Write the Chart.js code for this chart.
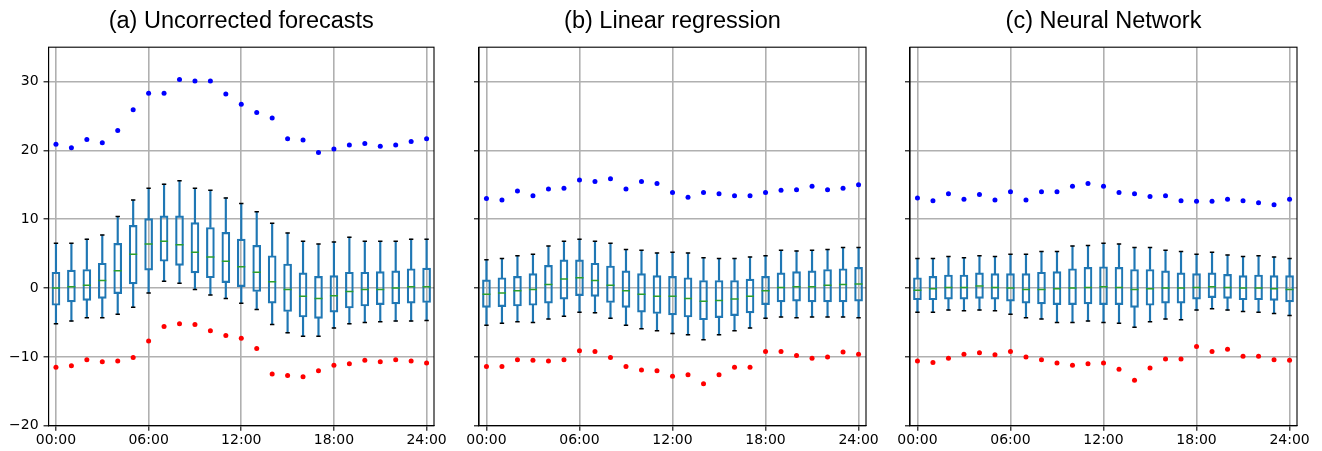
<!DOCTYPE html>
<html>
<head>
<meta charset="utf-8">
<title>Forecast errors by hour</title>
<script src="https://cdn.jsdelivr.net/npm/chart.js"></script>
<style>
  body { margin: 0; background: #fff; }
  #wrap { position: relative; width: 1322px; height: 451px; overflow: hidden; }
  canvas { position: absolute; top: 0; }
</style>
</head>
<body>
<div id="wrap">
  <canvas id="chartA" style="left:0px"></canvas>
  <canvas id="chartB" style="left:440px"></canvas>
  <canvas id="chartC" style="left:871px"></canvas>
</div>
<script>
// hour positions of the boxes
const hours = [0, 1, 2, 3, 4, 5, 6, 7, 8, 9, 10, 11, 12, 13, 14, 15, 16, 17, 18, 19, 20, 21, 22, 23, 24];
const xTicks = [0, 6, 12, 18, 24];
const xTickLabels = ['00:00', '06:00', '12:00', '18:00', '24:00'];
const yTicks = [-20, -10, 0, 10, 20, 30];
const yTickLabels = ['\u221220', '\u221210', '0', '10', '20', '30'];
const titles = ['(a) Uncorrected forecasts', '(b) Linear regression', '(c) Neural Network'];

// (a) uncorrected
const aWhiskerHigh = [6.5, 6.5, 7.1, 7.7, 10.4, 12.8, 14.5, 15.1, 15.6, 14.5, 14.2, 13.1, 12.3, 11.1, 9.4, 8.0, 6.8, 6.4, 6.7, 7.4, 6.8, 6.8, 6.8, 7.1, 7.1];
const aQ3 = [2.3, 2.6, 2.7, 3.6, 6.5, 9.1, 10.1, 10.5, 10.5, 9.5, 8.8, 8.1, 7.1, 6.2, 4.7, 3.5, 2.2, 1.7, 1.8, 2.3, 2.3, 2.4, 2.5, 2.8, 2.9];
const aMedian = [0.0, 0.2, 0.4, 1.1, 2.5, 4.9, 6.4, 6.8, 6.3, 5.2, 4.5, 3.9, 3.1, 2.3, 0.9, -0.2, -1.2, -1.5, -1.1, -0.5, -0.2, -0.2, 0.0, 0.2, 0.2];
const aQ1 = [-2.5, -2.0, -1.8, -1.5, -0.8, 0.6, 2.6, 3.9, 3.3, 2.2, 1.5, 0.8, 0.2, -0.5, -2.2, -3.4, -4.2, -4.4, -3.5, -2.9, -2.6, -2.4, -2.3, -2.2, -2.1];
const aWhiskerLow = [-5.2, -4.8, -4.3, -4.3, -3.8, -2.8, -0.7, 1.0, 0.7, -0.2, -1.0, -1.5, -2.2, -3.1, -5.3, -6.5, -7.0, -7.0, -5.8, -5.2, -5.0, -4.9, -4.8, -4.8, -4.7];
const aMax = [20.9, 20.4, 21.6, 21.1, 22.9, 25.9, 28.3, 28.3, 30.3, 30.1, 30.1, 28.2, 26.7, 25.5, 24.7, 21.7, 21.5, 19.7, 20.2, 20.8, 21.0, 20.6, 20.8, 21.3, 21.7];
const aMin = [-11.5, -11.3, -10.4, -10.7, -10.6, -10.1, -7.7, -5.6, -5.2, -5.3, -6.2, -6.9, -7.3, -8.8, -12.5, -12.7, -12.9, -12.0, -11.2, -11.0, -10.5, -10.7, -10.4, -10.6, -10.9];

// (b) linear regression
const bWhiskerHigh = [4.1, 4.3, 4.7, 4.9, 6.1, 6.8, 7.1, 6.8, 6.5, 5.6, 5.5, 5.1, 5.2, 5.1, 4.4, 4.3, 4.3, 4.5, 4.7, 5.5, 5.4, 5.5, 5.6, 5.9, 5.9];
const bQ3 = [1.2, 1.5, 1.7, 2.1, 3.3, 4.1, 4.1, 3.6, 3.2, 2.5, 2.1, 1.8, 1.7, 1.5, 1.1, 1.1, 1.1, 1.3, 1.7, 2.2, 2.4, 2.5, 2.7, 2.8, 3.0];
const bMedian = [-0.9, -0.7, -0.4, -0.2, 0.5, 1.3, 1.5, 1.1, 0.4, -0.4, -0.9, -1.2, -1.2, -1.5, -1.9, -1.8, -1.6, -1.2, -0.4, 0.1, 0.2, 0.2, 0.4, 0.5, 0.6];
const bQ1 = [-2.8, -2.7, -2.6, -2.5, -2.2, -1.6, -1.1, -1.2, -2.1, -2.8, -3.5, -3.7, -3.9, -4.2, -4.6, -4.3, -4.0, -3.6, -2.4, -2.0, -1.9, -2.0, -2.0, -2.0, -1.9];
const bWhiskerLow = [-5.4, -5.1, -4.9, -5.0, -4.5, -4.1, -3.5, -3.6, -4.4, -5.4, -5.9, -6.2, -6.6, -6.8, -7.5, -6.8, -6.2, -5.8, -4.4, -4.2, -4.3, -4.2, -4.2, -4.2, -4.3];
const bMax = [13.0, 12.8, 14.1, 13.4, 14.4, 14.5, 15.7, 15.5, 15.9, 14.4, 15.5, 15.2, 13.9, 13.2, 13.9, 13.7, 13.4, 13.4, 13.9, 14.2, 14.3, 14.8, 14.3, 14.5, 15.0];
const bMin = [-11.4, -11.4, -10.4, -10.5, -10.6, -10.4, -9.1, -9.2, -10.1, -11.4, -11.9, -12.0, -12.8, -12.6, -13.9, -12.6, -11.5, -11.5, -9.2, -9.2, -9.8, -10.2, -10.0, -9.3, -9.6];

// (c) neural network
const cWhiskerHigh = [4.3, 4.3, 4.6, 4.4, 4.7, 4.6, 4.9, 4.9, 5.3, 5.3, 6.1, 6.2, 6.5, 6.4, 5.9, 5.9, 5.5, 5.3, 4.9, 5.2, 4.8, 4.6, 4.7, 4.5, 4.3];
const cQ3 = [1.5, 1.7, 1.9, 1.9, 2.2, 2.1, 2.1, 2.1, 2.3, 2.4, 2.8, 3.0, 3.1, 3.0, 2.7, 2.7, 2.5, 2.2, 2.1, 2.2, 2.0, 1.8, 1.9, 1.8, 1.8];
const cMedian = [-0.3, -0.1, 0.1, 0.1, 0.3, 0.1, 0.0, -0.2, -0.2, -0.1, 0.0, 0.1, 0.2, 0.1, -0.2, -0.1, 0.0, 0.0, 0.1, 0.2, 0.1, 0.0, 0.0, -0.1, -0.2];
const cQ1 = [-1.7, -1.7, -1.6, -1.6, -1.5, -1.6, -1.9, -2.2, -2.3, -2.4, -2.4, -2.3, -2.4, -2.4, -2.8, -2.5, -2.2, -2.2, -1.6, -1.4, -1.5, -1.7, -1.7, -1.8, -2.0];
const cWhiskerLow = [-3.5, -3.5, -3.2, -3.3, -3.2, -3.3, -3.8, -4.3, -4.5, -5.0, -5.0, -4.8, -5.0, -5.1, -5.7, -4.9, -4.5, -4.6, -3.2, -3.0, -3.2, -3.4, -3.5, -3.7, -4.0];
const cMax = [13.1, 12.7, 13.7, 12.9, 13.6, 12.8, 14.0, 12.8, 14.0, 14.0, 14.8, 15.2, 14.8, 13.9, 13.7, 13.3, 13.4, 12.7, 12.6, 12.6, 12.9, 12.7, 12.4, 12.1, 12.9];
const cMin = [-10.6, -10.8, -10.2, -9.6, -9.4, -9.7, -9.2, -10.0, -10.4, -10.9, -11.2, -11.0, -10.9, -11.8, -13.4, -11.6, -10.3, -10.3, -8.5, -9.2, -8.9, -9.9, -9.9, -10.4, -10.5];

const BLUE = '#1f77b4';
const GREEN = '#2ca02c';

// draws the closed frame around the plot area (matplotlib style spines)
const framePlugin = {
  id: 'frame',
  beforeDatasetsDraw(chart) {
    const a = chart.chartArea;
    const ctx = chart.ctx;
    ctx.save();
    ctx.strokeStyle = '#000';
    ctx.lineWidth = 1.1;
    ctx.strokeRect(a.left, a.top, a.right - a.left, a.bottom - a.top);
    ctx.restore();
  }
};

function makePanel(id, title, wHigh, q3, med, q1, wLow, maxs, mins, showY, pad, width) {
  const canvas = document.getElementById(id);
  canvas.width = width;
  canvas.height = 451;
  canvas.style.width = width + 'px';
  canvas.style.height = '451px';

  const pts = arr => hours.map((h, i) => ({ x: h, y: arr[i] }));
  const range = (lo, hi) => hours.map((h, i) => ({ x: h, y: [lo[i], hi[i]] }));

  new Chart(canvas, {
    type: 'bar',
    data: {
      datasets: [
        { type: 'scatter', data: pts(maxs), pointRadius: 2.5, pointBackgroundColor: '#0000ff', pointBorderWidth: 0 },
        { type: 'scatter', data: pts(mins), pointRadius: 2.5, pointBackgroundColor: '#ff0000', pointBorderWidth: 0 },
        { type: 'scatter', data: pts(med), pointStyle: 'line', pointRadius: 4, pointBorderColor: GREEN, pointBorderWidth: 1.5 },
        { type: 'scatter', data: pts(wHigh).concat(pts(wLow)), pointStyle: 'line', pointRadius: 2.2, pointBorderColor: '#000', pointBorderWidth: 1.5 },
        { data: range(q1, q3), grouped: false, barThickness: 8, backgroundColor: 'rgba(0,0,0,0)', borderColor: BLUE, borderWidth: 1.5, borderSkipped: false },
        { data: range(q3, wHigh), grouped: false, barThickness: 1.5, backgroundColor: BLUE, borderWidth: 0 },
        { data: range(wLow, q1), grouped: false, barThickness: 1.5, backgroundColor: BLUE, borderWidth: 0 }
      ]
    },
    options: {
      responsive: false,
      animation: false,
      events: [],
      layout: { padding: pad },
      plugins: {
        legend: { display: false },
        tooltip: { enabled: false },
        title: {
          display: true, text: title, fullSize: false, color: '#000',
          font: { family: 'Liberation Sans', size: 23.5, weight: 'normal' },
          padding: { top: 7, bottom: 12 }
        }
      },
      scales: {
        x: {
          type: 'linear', min: -0.48, max: 24.48, offset: false,
          afterBuildTicks: s => { s.ticks = xTicks.map(v => ({ value: v })); },
          ticks: {
            color: '#000', padding: 1, maxRotation: 0,
            font: { family: 'DejaVu Sans', size: 14 },
            callback: v => xTickLabels[xTicks.indexOf(v)]
          },
          grid: { offset: false, color: '#b0b0b0', lineWidth: 1.6, tickLength: 5, tickColor: '#000', tickWidth: 1.1 },
          border: { display: true, color: '#000', width: 1.1 }
        },
        y: {
          type: 'linear', min: -20, max: 35,
          afterBuildTicks: s => { s.ticks = yTicks.map(v => ({ value: v })); },
          ticks: {
            display: showY, color: '#000', padding: 5,
            font: { family: 'DejaVu Sans', size: 14 },
            callback: v => yTickLabels[yTicks.indexOf(v)]
          },
          grid: { color: '#b0b0b0', lineWidth: 1.6, tickLength: 5, tickColor: '#000', tickWidth: 1.1 },
          border: { display: true, color: '#000', width: 1.1 }
        }
      }
    },
    plugins: [framePlugin]
  });
}

makePanel('chartA', titles[0], aWhiskerHigh, aQ3, aMedian, aQ1, aWhiskerLow, aMax, aMin, true,
  { left: 4, right: 26, top: 0, bottom: 1.5 }, 460);
makePanel('chartB', titles[1], bWhiskerHigh, bQ3, bMedian, bQ1, bWhiskerLow, bMax, bMin, false,
  { left: 34, right: 24, top: 0, bottom: 1.5 }, 450);
makePanel('chartC', titles[2], cWhiskerHigh, cQ3, cMedian, cQ1, cWhiskerLow, cMax, cMin, false,
  { left: 34, right: 25, top: 0, bottom: 1.5 }, 451);
</script>
</body>
</html>
